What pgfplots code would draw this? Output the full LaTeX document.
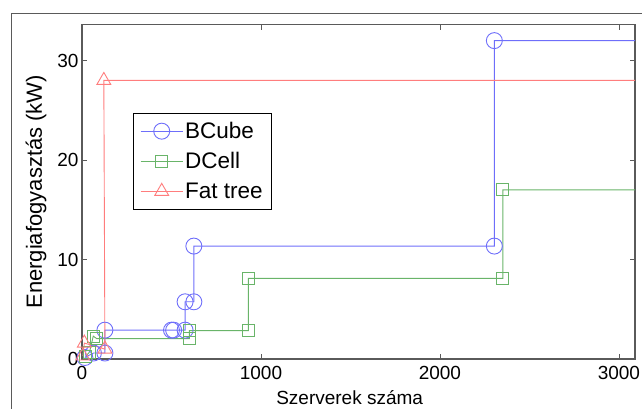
\documentclass[border=0pt]{standalone}
\usepackage{pgfplots}
\pgfplotsset{compat=1.18}
\usepackage{fontspec}
\setmainfont{Liberation Sans}
\definecolor{bl}{RGB}{110,110,250}
\definecolor{gr}{RGB}{105,180,105}
\definecolor{rd}{RGB}{255,125,125}
\definecolor{ax}{RGB}{90,90,90}
\begin{document}
\begin{tikzpicture}
\begin{axis}[
  scale only axis, width=553pt, height=334.3pt,
  xmin=0, xmax=3090, ymin=0, ymax=33.6,
  xtick={0,1000,2000,3000}, ytick={0,10,20,30},
  tick align=inside, major tick length=5pt,
  axis line style={ax, line width=1.4pt},
  tick style={ax, line width=0.8pt},
  /pgf/number format/assume math mode=true,
  /pgf/number format/1000 sep={},
  ticklabel style={font=\fontsize{19}{21}\selectfont},
  xticklabel style={yshift=-4pt},
  xlabel={Szerverek száma}, ylabel={Energiafogyasztás (kW)},
  xlabel style={font=\fontsize{19}{21}\selectfont, at={(axis description cs:0.484,0)}, anchor=base, yshift=-45pt},
  ylabel style={font=\fontsize{22}{24}\selectfont, at={(axis description cs:-0.0832,0.5)}, anchor=center},
  legend style={at={(axis description cs:0.0922,0.736)}, anchor=north west,
    draw=black, line width=0.6pt, font=\fontsize{22.5}{25}\selectfont,
    row sep=8.5pt, inner xsep=7pt, inner ysep=7pt},
  legend cell align=left,
  legend image code/.code={\draw[mark=none] (0pt,0pt) -- (42pt,0pt);
     \draw[mark indices={1}] plot coordinates {(21pt,0pt)};},
]
\addplot[bl, line width=0.9pt, mark=o, mark size=8pt, mark options={line width=0.9pt},
  mark indices={1,2,3,4,5,6,7,8,9,10,11,12}] coordinates {
  (16,0.15) (64,0.6) (128,0.6) (128,2.9) (500,2.9) (512,2.9) (576,2.9)
  (576,5.75) (625,5.75) (625,11.35) (2304,11.35) (2304,32) (3090,32)};
\addlegendentry{BCube}
\addplot[gr, line width=0.9pt, mark=square, mark size=6pt, mark options={line width=0.9pt},
  mark indices={1,2,3,4,5,6,7,8,9,10}] coordinates {
  (20,0.25) (42,0.7) (63,2.3) (82,2.05) (600,2.05) (600,2.85) (930,2.85)
  (930,8.1) (2352,8.1) (2352,17) (3090,17)};
\addlegendentry{DCell}
\addplot[rd, line width=0.9pt, mark=triangle, mark size=8pt, mark options={line width=0.9pt},
  mark indices={1,2,3,4}] coordinates {
  (5,0.3) (13,1.6) (128,1.0) (122,28) (3090,28)};
\addlegendentry{Fat tree}
\end{axis}
\draw[ax, line width=0.8pt] (-71pt,-60pt) -- (-71pt,346pt) -- (600pt,346pt);
\pgfresetboundingbox
\path[use as bounding box] (-82pt,-49pt) rectangle (560pt,359pt);
\end{tikzpicture}
\end{document}
